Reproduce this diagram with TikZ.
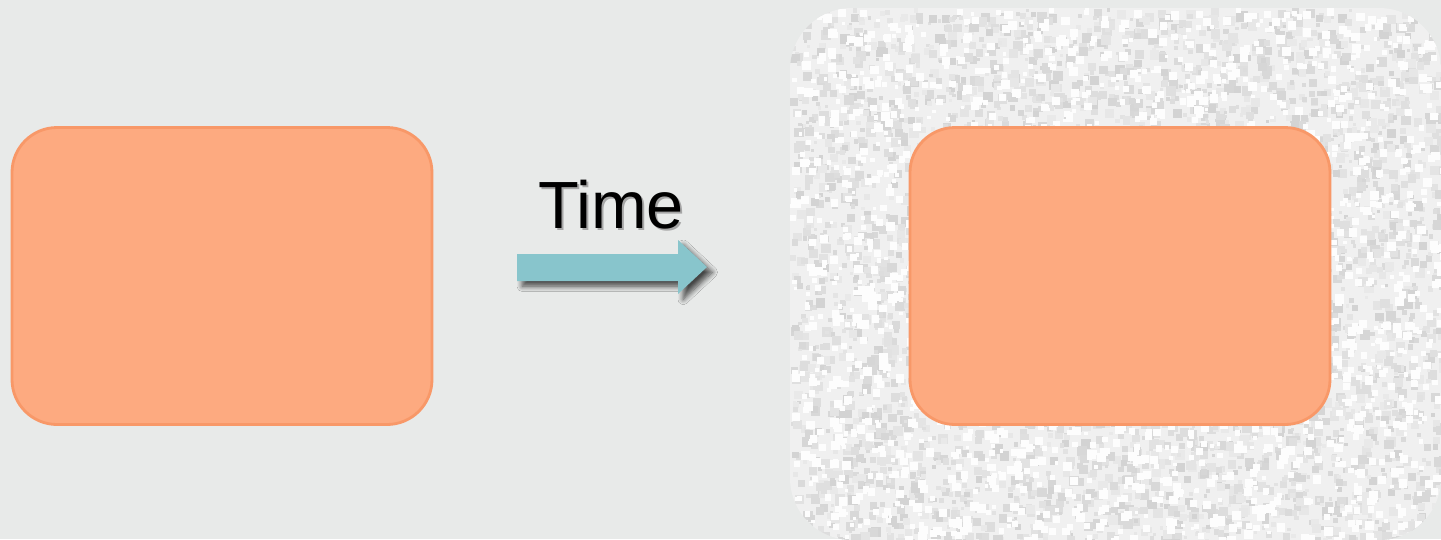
\documentclass[tikz,border=0pt]{standalone}
\usepackage{fontspec}
\setmainfont{Liberation Sans}
\usetikzlibrary{shadows.blur}
\definecolor{bgc}{HTML}{E8EAE9}
\definecolor{texc}{HTML}{F0F0F0}
\definecolor{boxfill}{HTML}{FDAA80}
\definecolor{boxline}{HTML}{F89868}
\definecolor{arrc}{HTML}{88C5CC}
\tikzset{
  orangebox/.style={draw=boxline, line width=1.6pt, fill=boxfill, rounded corners=45*0.02cm},
}
\begin{document}
\begin{tikzpicture}[x=0.02cm,y=-0.02cm]
\fill[bgc] (0,0) rectangle (1441,539);
\useasboundingbox (0,0) rectangle (1441,539);
% textured panel
\begin{scope}
\clip[rounded corners=62*0.02cm] (790,8) rectangle (1441,540);
\fill[texc] (790,8) rectangle (1441,540);
\pgfmathsetseed{7}
\foreach \i in {1,...,4500}{
  \pgfmathsetmacro{\xx}{790+651*rnd}
  \pgfmathsetmacro{\yy}{8+532*rnd}
  \pgfmathtruncatemacro{\pc}{3+10*rnd}
  \pgfmathsetmacro{\sz}{3+7*rnd}
  \fill[black!\pc!texc] (\xx,\yy) rectangle ++(\sz,\sz);
}
\foreach \i in {1,...,2000}{
  \pgfmathsetmacro{\xx}{790+651*rnd}
  \pgfmathsetmacro{\yy}{8+532*rnd}
  \pgfmathsetmacro{\sz}{3+6*rnd}
  \fill[white!85!texc] (\xx,\yy) rectangle ++(\sz,\sz);
}
\end{scope}
% boxes
\node[orangebox, minimum width=420*0.02cm, minimum height=297*0.02cm, inner sep=0pt] (left) at (222,276) {};
\node[orangebox, minimum width=420*0.02cm, minimum height=297*0.02cm, inner sep=0pt] (right) at (1120,276) {};
% arrow
\fill[arrc, blur shadow={shadow xshift=3pt, shadow yshift=-3pt, shadow blur steps=8, shadow blur radius=3pt, shadow opacity=70}]
  (517,254) -- (678,254) -- (678,240) -- (707,267) -- (678,294) -- (678,281) -- (517,281) -- cycle;
% text
\node[text=black!35, font=\fontsize{38}{40}\selectfont] at (613,207) {Time};
\node[text=black, font=\fontsize{38}{40}\selectfont] (time) at (611,205) {Time};
\end{tikzpicture}
\end{document}
